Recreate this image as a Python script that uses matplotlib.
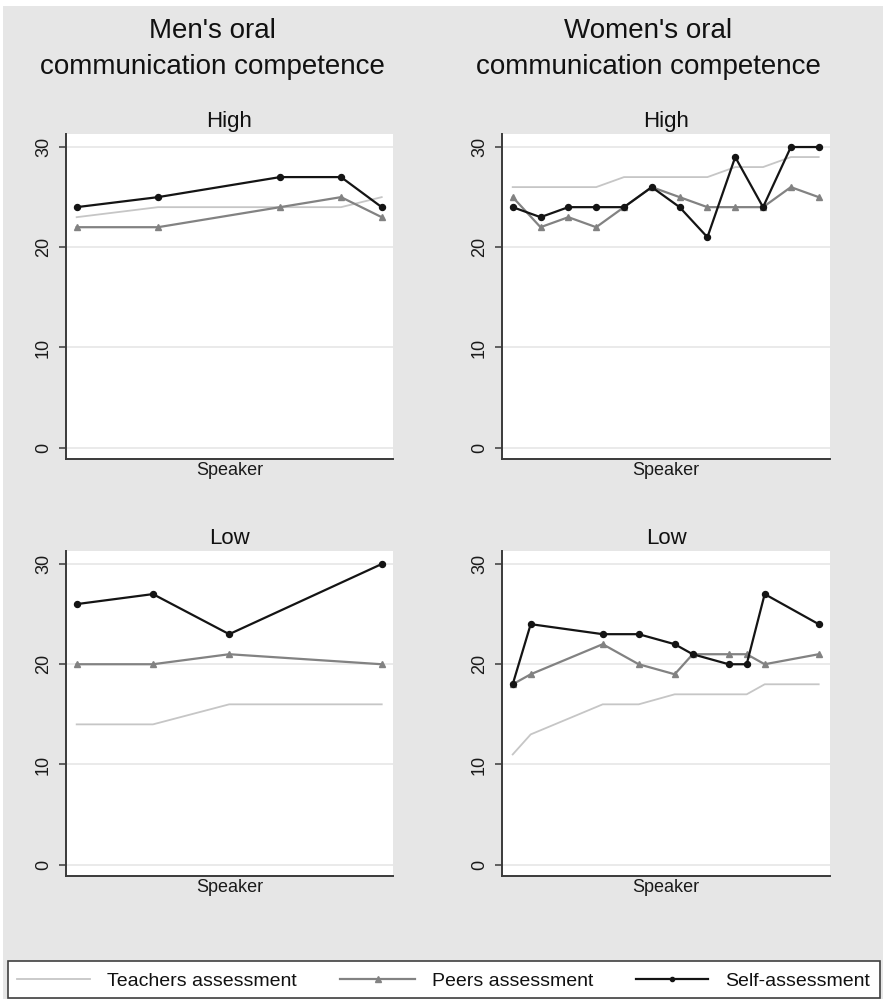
import matplotlib
matplotlib.use("Agg")
import matplotlib.pyplot as plt
from matplotlib.lines import Line2D
from matplotlib.patches import Rectangle

# ---- data -------------------------------------------------------------
men_high_speaker = [1, 5, 11, 14, 16]
men_high_teachers = [23, 24, 24, 24, 25]
men_high_peers = [22, 22, 24, 25, 23]
men_high_self = [24, 25, 27, 27, 24]

men_low_speaker = [1, 2, 3, 5]
men_low_teachers = [14, 14, 16, 16]
men_low_peers = [20, 20, 21, 20]
men_low_self = [26, 27, 23, 30]

women_high_speaker = [1, 2, 3, 4, 5, 6, 7, 8, 9, 10, 11, 12]
women_high_teachers = [26, 26, 26, 26, 27, 27, 27, 27, 28, 28, 29, 29]
women_high_peers = [25, 22, 23, 22, 24, 26, 25, 24, 24, 24, 26, 25]
women_high_self = [24, 23, 24, 24, 24, 26, 24, 21, 29, 24, 30, 30]

women_low_speaker = [1, 2, 6, 8, 10, 11, 13, 14, 15, 18]
women_low_teachers = [11, 13, 16, 16, 17, 17, 17, 17, 18, 18]
women_low_peers = [18, 19, 22, 20, 19, 21, 21, 21, 20, 21]
women_low_self = [18, 24, 23, 23, 22, 21, 20, 20, 27, 24]

column_titles = ["Men's oral", "Women's oral"]
column_subtitle = "communication competence"
row_titles = ["High", "Low"]
y_ticks = [0, 10, 20, 30]
series_labels = ["Teachers assessment", "Peers assessment", "Self-assessment"]

# ---- style ------------------------------------------------------------
W, H = 886, 999
BG = "#e6e6e6"
TEACH_C = "#c6c6c6"
PEER_C = "#828282"
SELF_C = "#141414"
AXIS_C = "#3a3a3a"
TEXT_C = "#111111"

plt.rcParams["font.family"] = ["Liberation Sans", "DejaVu Sans"]

fig = plt.figure(figsize=(W / 100, H / 100), dpi=100, facecolor="white")
fig.patches.append(Rectangle((3 / W, 0), (883 - 3) / W, (H - 6) / H,
                             transform=fig.transFigure, facecolor=BG,
                             edgecolor="none", zorder=-10))


def fx(px):
    return px / W


def fy(py):
    return 1 - py / H


def px_axes(left, right, top, bottom):
    return fig.add_axes([fx(left), fy(bottom), (right - left) / W, (bottom - top) / H])


series_style = [
    dict(color=TEACH_C, lw=1.3),
    dict(color=PEER_C, lw=1.6, marker="^", ms=5, mec=PEER_C, mfc=PEER_C),
    dict(color=SELF_C, lw=1.6, marker="o", ms=4.3, mec=SELF_C, mfc=SELF_C),
]

panels = [
    # pixel box (left, right, top, bottom), speakers, teachers, peers, self, row
    ((66, 393, 134, 459), men_high_speaker, men_high_teachers, men_high_peers, men_high_self, 0),
    ((66, 393, 551, 876), men_low_speaker, men_low_teachers, men_low_peers, men_low_self, 1),
    ((502, 830, 134, 459), women_high_speaker, women_high_teachers, women_high_peers, women_high_self, 0),
    ((502, 830, 551, 876), women_low_speaker, women_low_teachers, women_low_peers, women_low_self, 1),
]

for (l, r, t, b), spk, teach, peer, selfa, row in panels:
    ax = px_axes(l, r, t, b)
    ax.set_facecolor("white")
    for yv in y_ticks:
        ax.axhline(yv, color="#e4e4e4", lw=1.1, zorder=0)
    for z, (vals, st) in enumerate(zip([teach, peer, selfa], series_style)):
        ax.plot(spk, vals, zorder=2 + z, **st)

    span = max(spk) - min(spk)
    ax.set_xlim(min(spk) - 0.035 * span, max(spk) + 0.037 * span)
    ax.set_ylim(-1.13, 31.3)
    ax.set_yticks(y_ticks)
    ax.set_xticks([])
    ax.tick_params(axis="y", length=5, width=1.1, color=AXIS_C, pad=5,
                   labelsize=13, labelrotation=90, labelcolor="#1a1a1a")
    for lab in ax.get_yticklabels():
        lab.set_va("center")
    for side in ("top", "right"):
        ax.spines[side].set_visible(False)
    for side in ("left", "bottom"):
        ax.spines[side].set_color(AXIS_C)
        ax.spines[side].set_linewidth(1.4)
    ax.set_xlabel("Speaker", fontsize=13, labelpad=2, color="#1a1a1a")
    ax.set_title(row_titles[row], fontsize=16, pad=5, color=TEXT_C)

# column headings
for cx, title in zip([212, 648], column_titles):
    fig.text(fx(cx), fy(31), title, ha="center", va="center", fontsize=20, color=TEXT_C)
    fig.text(fx(cx), fy(67), column_subtitle, ha="center", va="center", fontsize=20,
             color=TEXT_C)

# shared legend box along the bottom
fig.patches.append(Rectangle((fx(8), fy(998)), (880 - 8) / W, (998 - 961) / H,
                             transform=fig.transFigure, facecolor="white",
                             edgecolor="#404040", lw=1.2, zorder=5))
legend_y = 979
legend_items = [(17, 90, 107), (340, 415, 432), (636, 708, 725)]
for (x0, x1, xt), label, st in zip(legend_items, series_labels, series_style):
    st = dict(st)
    if "ms" in st:
        st["ms"] = st["ms"] - 1.3
    fig.add_artist(Line2D([fx(x0), fx(x1)], [fy(legend_y), fy(legend_y)],
                          transform=fig.transFigure, zorder=6,
                          markevery=[], **st))
    if "marker" in st:
        fig.add_artist(Line2D([fx((x0 + x1) / 2)], [fy(legend_y)],
                              transform=fig.transFigure, zorder=7, ls="none",
                              marker=st["marker"], ms=st["ms"], mec=st["mec"],
                              mfc=st["mfc"]))
    fig.text(fx(xt), fy(legend_y), label, ha="left", va="center_baseline",
             fontsize=14, color=TEXT_C, zorder=7)

fig.savefig("out.png", dpi=100, facecolor=fig.get_facecolor())
